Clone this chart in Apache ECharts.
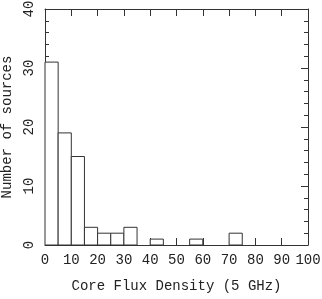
<!DOCTYPE html>
<html>
<head>
<meta charset="utf-8">
<script src="https://cdn.jsdelivr.net/npm/echarts@6/dist/echarts.min.js"></script>
<style>
  html, body { margin: 0; padding: 0; background: #fff; }
  #main { width: 322px; height: 299px; }
</style>
</head>
<body>
<div id="main"></div>
<script>
// histogram bins (width 5)
var binStarts = [0, 5, 10, 15, 20, 25, 30, 35, 40, 45, 50, 55, 60, 65, 70, 75, 80, 85, 90, 95];
var binWidth = 5;
var counts = [31, 19, 15, 3, 2, 2, 3, 0, 1, 0, 0, 1, 0, 0, 2, 0, 0, 0, 0, 0];

var xTicks = [0, 10, 20, 30, 40, 50, 60, 70, 80, 90, 100];
var yTicks = [0, 10, 20, 30, 40];

var font = 'Liberation Mono';
var ink = '#222';
var lineCol = '#333';

var bins = binStarts.map(function (s, i) {
  return [s, s + binWidth, counts[i]];
});

var myChart = echarts.init(document.getElementById('main'));

var axisLine = { show: true, onZero: false, lineStyle: { color: lineCol, width: 1 } };

var option = {
  animation: false,
  backgroundColor: '#fff',
  grid: { left: 45, right: 14, top: 9, bottom: 54, outerBoundsMode: 'none', containLabel: false },
  xAxis: [{
    type: 'value',
    position: 'bottom',
    min: xTicks[0], max: xTicks[xTicks.length - 1], interval: 10,
    name: 'Core Flux Density (5 GHz)',
    nameLocation: 'middle',
    nameGap: 34,
    nameTextStyle: { fontFamily: font, fontSize: 14, color: ink },
    axisLine: axisLine,
    axisTick: { inside: true, length: 7, lineStyle: { color: lineCol } },
    axisLabel: { fontFamily: font, fontSize: 14, color: ink, margin: 8 },
    splitLine: { show: false }
  }, {
    type: 'value',
    position: 'top',
    min: xTicks[0], max: xTicks[xTicks.length - 1], interval: 10,
    axisLine: axisLine,
    axisTick: { inside: true, length: 7, lineStyle: { color: lineCol } },
    axisLabel: { show: false },
    splitLine: { show: false }
  }],
  yAxis: [{
    type: 'value',
    position: 'left',
    min: yTicks[0], max: yTicks[yTicks.length - 1], interval: 10,
    name: 'Number of sources',
    nameLocation: 'middle',
    nameGap: 30,
    nameRotate: 90,
    nameTextStyle: { fontFamily: font, fontSize: 14, color: ink },
    axisLine: axisLine,
    axisTick: { inside: true, length: 7, lineStyle: { color: lineCol } },
    minorTick: { show: true, splitNumber: 5, length: 4, lineStyle: { color: lineCol } },
    axisLabel: { fontFamily: font, fontSize: 14, color: ink, rotate: 90, margin: 9 },
    splitLine: { show: false },
    minorSplitLine: { show: false }
  }, {
    type: 'value',
    position: 'right',
    min: yTicks[0], max: yTicks[yTicks.length - 1], interval: 10,
    axisLine: axisLine,
    axisTick: { inside: true, length: 7, lineStyle: { color: lineCol } },
    minorTick: { show: true, splitNumber: 5, length: 4, lineStyle: { color: lineCol } },
    axisLabel: { show: false },
    splitLine: { show: false },
    minorSplitLine: { show: false }
  }],
  series: [{
    type: 'custom',
    xAxisIndex: 0,
    yAxisIndex: 0,
    data: bins,
    renderItem: function (params, api) {
      if (api.value(2) <= 0) return null;
      var p0 = api.coord([api.value(0), 0]);
      var p1 = api.coord([api.value(1), api.value(2)]);
      return {
        type: 'rect',
        shape: { x: p0[0], y: p1[1], width: p1[0] - p0[0], height: p0[1] - p1[1] },
        style: { fill: '#fff', stroke: lineCol, lineWidth: 1 }
      };
    }
  }]
};

myChart.setOption(option);
</script>
</body>
</html>
